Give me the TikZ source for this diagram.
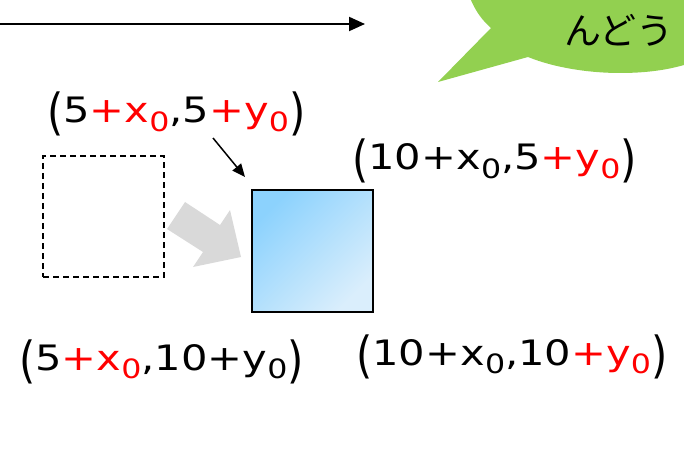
\documentclass[tikz,border=0pt]{standalone}
\usepackage{fontspec}
\setmainfont{DejaVu Sans}
\newfontfamily\cjk{Noto Sans CJK JP}
\usetikzlibrary{arrows.meta}
\definecolor{bubblegreen}{RGB}{146,208,80}
\definecolor{grayarrow}{RGB}{217,217,217}
\definecolor{bluetl}{RGB}{140,210,253}
\definecolor{bluebr}{RGB}{218,238,252}
\newcommand\rd[1]{\textcolor{red}{#1}}
\newcommand\sz{\raisebox{-0.25em}{\scalebox{0.76}{0}}}
\newcommand\lpar{\raisebox{-0.2em}{\scalebox{1}[1.42]{(}}}
\newcommand\rpar{\raisebox{-0.2em}{\scalebox{1}[1.42]{)}}}
\begin{document}
\begin{tikzpicture}[x=1pt,y=-1pt,
  coordlabel/.style={font=\fontsize{35}{42}\selectfont, inner sep=0pt, anchor=base west},
  bubbletext/.style={font=\cjk\fontsize{37}{42}\selectfont, inner sep=0pt},
  thinarrow/.style={line width=1.5pt, -{Triangle[length=13pt,width=11pt]}},
  mainarrow/.style={line width=2pt, -{Triangle[length=16pt,width=14pt]}},
  squarebox/.style={inner sep=0pt, minimum width=121pt, minimum height=121pt},
]
\useasboundingbox (0,0) rectangle (684,462);

% speech bubble
\fill[bubblegreen] (470,-2) .. controls (476,12) and (482,20) .. (491,28)
  -- (438,82) -- (528,57)
  .. controls (555,68) and (590,73) .. (620,73)
  .. controls (650,73) and (670,69) .. (684,65) -- (684,-2) -- cycle;
\node[bubbletext] (bt) at (619,30) {んどう};

% top arrow
\coordinate (t0) at (0,24);
\coordinate (t1) at (365,24);
\draw[mainarrow] (t0) -- (t1);

% squares
\node[squarebox, draw, dash pattern=on 6pt off 4pt, line width=1.2pt] (ghost) at (103.5,216.5) {};
\node[squarebox, minimum height=122pt, draw, line width=1.3pt,
  top color=bluetl, bottom color=bluebr, shading angle=45] (blue) at (312.5,251) {};

% gray block arrow
\fill[grayarrow] (185,202) -- (220,225) -- (230,210) -- (241,257) -- (193,267) -- (203,252) -- (167,229) -- cycle;

% small arrow
\coordinate (p0) at (213,138);
\coordinate (p1) at (245,177);
\draw[thinarrow] (p0) -- (p1);

% labels
\node[coordlabel] (l1) at (47,123) {\scalebox{1.19}[1]{\lpar5\rd{+x\sz},5\rd{+y\sz}\rpar}};
\node[coordlabel] (l2) at (352,170) {\scalebox{1.19}[1]{\lpar10+x\sz,5\rd{+y\sz}\rpar}};
\node[coordlabel] (l3) at (19,370) {\scalebox{1.19}[1]{\lpar5\rd{+x\sz},10+y\sz\rpar}};
\node[coordlabel] (l4) at (356,365) {\scalebox{1.19}[1]{\lpar10+x\sz,10\rd{+y\sz}\rpar}};
\end{tikzpicture}
\end{document}
